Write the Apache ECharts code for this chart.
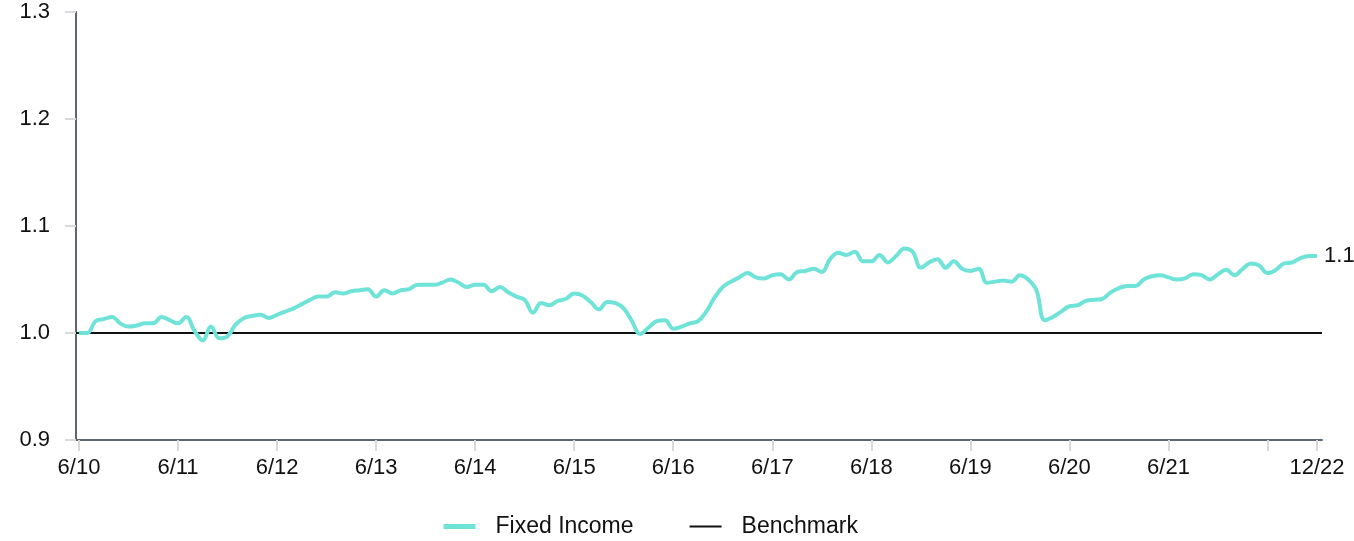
<!DOCTYPE html>
<html>
<head>
<meta charset="utf-8">
<script src="https://cdn.jsdelivr.net/npm/echarts@6/dist/echarts.min.js"></script>
<style>
  html, body { margin: 0; padding: 0; background: #fff; }
  #main { width: 1354px; height: 541px; }
</style>
</head>
<body>
<div id="main"></div>
<script>
// month labels, 6/10 .. 12/22
var months = [];
for (var i = 0; i <= 150; i++) {
  var m = (5 + i) % 12 + 1;
  var y = 10 + Math.floor((5 + i) / 12);
  months.push(m + '/' + y);
}

// ticks every June plus the last month; the 6/22 label is left out
var tickIndex = [0, 12, 24, 36, 48, 60, 72, 84, 96, 108, 120, 132, 144, 150];
var labelIndex = [0, 12, 24, 36, 48, 60, 72, 84, 96, 108, 120, 132, 150];

var fixedIncome = [
  1.000, 1.000, 1.011, 1.013, 1.015, 1.009, 1.006, 1.007, 1.009, 1.009, 1.015, 1.012,
  1.009, 1.015, 1.002, 0.993, 1.006, 0.995, 0.997, 1.008, 1.014, 1.016, 1.017, 1.014,
  1.017, 1.020, 1.023, 1.027, 1.031, 1.034, 1.034, 1.038, 1.037, 1.039, 1.040, 1.041,
  1.034, 1.040, 1.037, 1.040, 1.041, 1.045, 1.045, 1.045, 1.047, 1.050, 1.047, 1.043,
  1.045, 1.045, 1.039, 1.043, 1.038, 1.034, 1.031, 1.019, 1.028, 1.026, 1.030, 1.032,
  1.037, 1.035, 1.029, 1.022, 1.029, 1.028, 1.023, 1.011, 0.999, 1.005, 1.011, 1.012,
  1.004, 1.006, 1.009, 1.011, 1.020, 1.033, 1.043, 1.048, 1.052, 1.056, 1.052, 1.051,
  1.054, 1.055, 1.050, 1.057, 1.058, 1.060, 1.057, 1.069, 1.075, 1.073, 1.076, 1.067,
  1.067, 1.073, 1.066, 1.072, 1.079, 1.076, 1.061, 1.066, 1.069, 1.061, 1.067, 1.060,
  1.058, 1.060, 1.047, 1.048, 1.049, 1.048, 1.054, 1.050, 1.040, 1.012, 1.015, 1.020,
  1.025, 1.026, 1.030, 1.031, 1.032, 1.038, 1.042, 1.044, 1.044, 1.050, 1.053, 1.054,
  1.052, 1.050, 1.051, 1.055, 1.054, 1.050, 1.055, 1.059, 1.054, 1.060, 1.065, 1.063,
  1.056, 1.059, 1.065, 1.066, 1.070, 1.072, 1.072
];

var benchmarkLevel = 1.0;

var font = 'Liberation Sans';
var teal = '#70e3d8';
var ink = '#111111';

var myChart = echarts.init(document.getElementById('main'));

var option = {
  animation: false,
  color: [teal, ink],
  grid: {
    left: 76,
    right: 32,
    top: 12,
    bottom: 101
  },
  legend: {
    top: 510,
    left: 436,
    itemWidth: 32,
    itemHeight: 14,
    itemGap: 55,
    itemStyle: { opacity: 0 },
    textStyle: {
      fontFamily: font,
      fontSize: 23,
      color: ink,
      padding: [0, 0, 0, 15]
    },
    data: [
      { name: 'Fixed Income', lineStyle: { width: 5, color: teal } },
      { name: 'Benchmark', lineStyle: { width: 2, color: ink } }
    ]
  },
  xAxis: {
    type: 'value',
    min: -0.36,
    max: 150.6,
    axisLine: { lineStyle: { color: '#5b6672', width: 2 } },
    axisTick: {
      length: 11,
      lineStyle: { color: '#d9d9d9', width: 2 },
      customValues: tickIndex
    },
    axisLabel: {
      customValues: labelIndex,
      margin: 17,
      fontFamily: font,
      fontSize: 22,
      color: ink,
      formatter: function (v) {
        return months[Math.round(v)];
      }
    },
    splitLine: { show: false }
  },
  yAxis: {
    type: 'value',
    min: 0.9,
    max: 1.3,
    interval: 0.1,
    axisLine: { show: true, onZero: false, lineStyle: { color: '#5b6672', width: 2 } },
    axisTick: { show: true, length: 11, lineStyle: { color: '#d9d9d9', width: 2 } },
    axisLabel: {
      margin: 26,
      fontFamily: font,
      fontSize: 22,
      color: ink,
      formatter: function (v) {
        return v.toFixed(1);
      }
    },
    splitLine: { show: false }
  },
  series: [
    {
      name: 'Fixed Income',
      type: 'line',
      smooth: 0.4,
      symbol: 'none',
      z: 4,
      lineStyle: { width: 4, color: teal },
      data: fixedIncome.map(function (v, i) { return [i, v]; }),
      endLabel: {
        show: true,
        distance: 7,
        fontFamily: font,
        fontSize: 22,
        color: ink,
        formatter: function (p) {
          return p.value[1].toFixed(1);
        }
      }
    },
    {
      name: 'Benchmark',
      type: 'line',
      symbol: 'none',
      z: 2,
      lineStyle: { width: 2, color: ink },
      data: [[0, benchmarkLevel], [150, benchmarkLevel]],
      markLine: {
        silent: true,
        z: 2,
        symbol: 'none',
        label: { show: false },
        lineStyle: { type: 'solid', width: 2, color: ink },
        data: [{ yAxis: benchmarkLevel }]
      }
    }
  ]
};

myChart.setOption(option);
</script>
</body>
</html>
